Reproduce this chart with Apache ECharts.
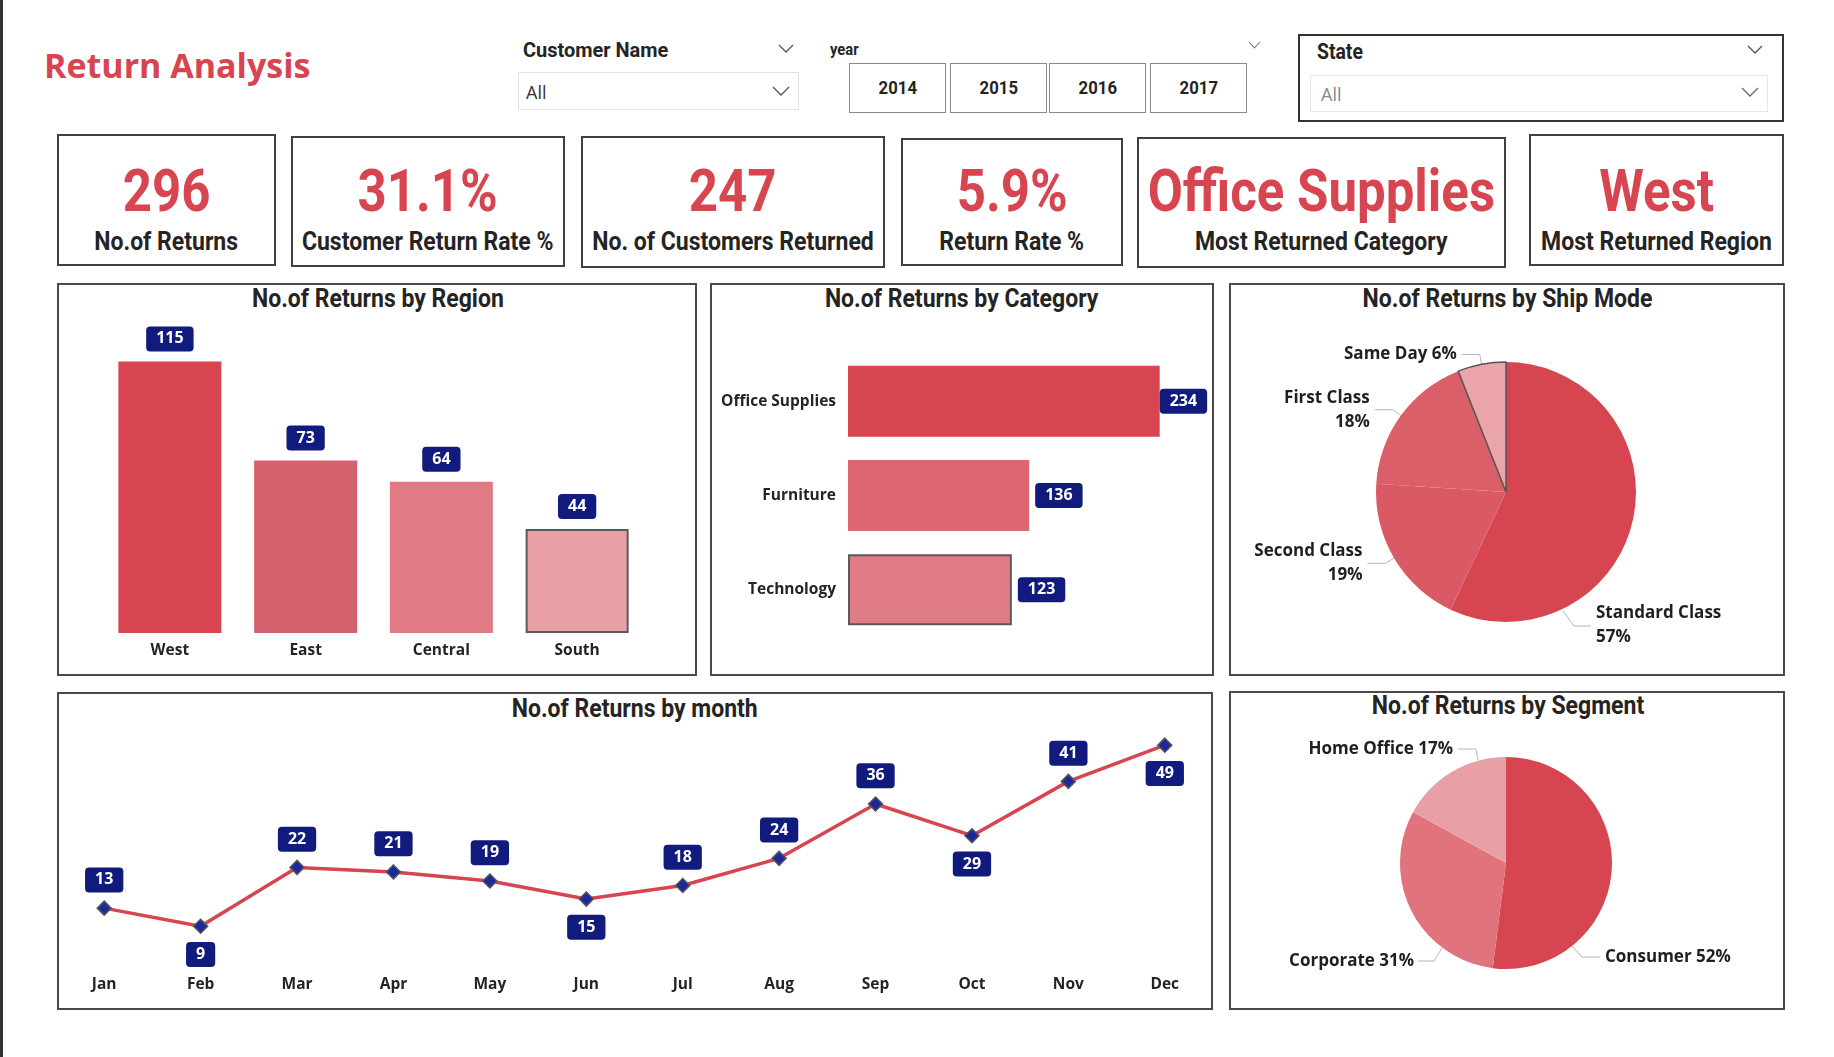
<!DOCTYPE html>
<html>
<head>
<meta charset="utf-8">
<title>Return Analysis</title>
<script src="https://cdn.jsdelivr.net/npm/echarts@6/dist/echarts.min.js"></script>
<style>
  html, body { margin: 0; padding: 0; background: #fff; }
  body { width: 1834px; height: 1057px; position: relative; overflow: hidden; }
  .abs { position: absolute; box-sizing: border-box; }
  .din { font-family: Roboto, "DejaVu Sans", sans-serif; font-weight: bold; color: #252423; white-space: nowrap; }
  .din span { display: inline-block; transform: scaleX(0.92); transform-origin: left center; }
  .ctr { text-align: center; }
  .ctr span { transform-origin: center center; }
  .card { border: 2px solid #404040; background: #fff; }
  .panel { border: 2px solid #4a4a4a; }
  .yearBtn { border: 1px solid #8a8a8a; font-size: 19px; line-height: 48px; }
  .chev { position: absolute; }
  #charts { position: absolute; left: 0; top: 0; width: 1834px; height: 1057px; }
</style>
</head>
<body>
<div class="abs" style="left:0;top:0;width:3px;height:1057px;background:#333;"></div>

<div class="abs" style="left:44px;top:42px;font-family:'Open Sans',sans-serif;font-weight:700;font-size:34px;color:#D64550;">Return Analysis</div>

<!-- slicers -->
<div class="abs din" style="left:523px;top:38px;font-size:21px;"><span style="transform:scaleX(0.95)">Customer Name</span></div>
<svg class="chev" style="left:778px;top:44px" width="16" height="10"><polyline points="1,1 8,8 15,1" fill="none" stroke="#555" stroke-width="1.3"/></svg>
<div class="abs" style="left:518px;top:72px;width:281px;height:38px;border:1px solid #e3e3e3;"></div>
<div class="abs" style="left:526px;top:80px;font-family:'Open Sans',sans-serif;font-size:18px;color:#333;">All</div>
<svg class="chev" style="left:772px;top:86px" width="18" height="11"><polyline points="1,1 9,9 17,1" fill="none" stroke="#555" stroke-width="1.3"/></svg>

<div class="abs din" style="left:830px;top:40px;font-size:16px;"><span>year</span></div>
<svg class="chev" style="left:1248px;top:41px" width="13" height="9"><polyline points="1,1 6.5,7 12,1" fill="none" stroke="#777" stroke-width="1.1"/></svg>
<div id="years"></div>

<div class="abs" style="left:1298px;top:34px;width:486px;height:88px;border:2px solid #333;"></div>
<div class="abs din" style="left:1317px;top:39px;font-size:22px;"><span style="transform:scaleX(0.88)">State</span></div>
<svg class="chev" style="left:1747px;top:45px" width="16" height="10"><polyline points="1,1 8,8 15,1" fill="none" stroke="#555" stroke-width="1.3"/></svg>
<div class="abs" style="left:1310px;top:75px;width:458px;height:37px;border:1px solid #e6e6e6;"></div>
<div class="abs" style="left:1321px;top:82px;font-family:'Open Sans',sans-serif;font-size:18px;color:#888;">All</div>
<svg class="chev" style="left:1741px;top:87px" width="18" height="11"><polyline points="1,1 9,9 17,1" fill="none" stroke="#666" stroke-width="1.3"/></svg>

<div id="cards"></div>

<!-- visual frames -->
<div class="abs panel" style="left:57px;top:283px;width:640px;height:393px;"></div>
<div class="abs panel" style="left:710px;top:283px;width:504px;height:393px;"></div>
<div class="abs panel" style="left:1229px;top:283px;width:556px;height:393px;"></div>
<div class="abs panel" style="left:57px;top:692px;width:1156px;height:318px;"></div>
<div class="abs panel" style="left:1229px;top:691px;width:556px;height:319px;"></div>
<div id="titles"></div>

<div id="charts"></div>

<script>
// slicer values
var years = ['2014', '2015', '2016', '2017'];

// KPI cards
var kpiValues = ['296', '31.1%', '247', '5.9%', 'Office Supplies', 'West'];
var kpiLabels = ['No.of Returns', 'Customer Return Rate %', 'No. of Customers Returned',
                 'Return Rate %', 'Most Returned Category', 'Most Returned Region'];

// visual titles
var visualTitles = ['No.of Returns by Region', 'No.of Returns by Category', 'No.of Returns by Ship Mode',
                    'No.of Returns by month', 'No.of Returns by Segment'];

// charts
var regions = ['West', 'East', 'Central', 'South'];
var regionReturns = [115, 73, 64, 44];

var categories = ['Office Supplies', 'Furniture', 'Technology'];
var categoryReturns = [234, 136, 123];

var shipModes = ['Standard Class', 'Second Class', 'First Class', 'Same Day'];
var shipModeShare = [57, 19, 18, 6];

var months = ['Jan', 'Feb', 'Mar', 'Apr', 'May', 'Jun', 'Jul', 'Aug', 'Sep', 'Oct', 'Nov', 'Dec'];
var monthReturns = [13, 9, 22, 21, 19, 15, 18, 24, 36, 29, 41, 49];

var segments = ['Consumer', 'Corporate', 'Home Office'];
var segmentShare = [52, 31, 17];

//----- slicer buttons
var yearLeft = [849, 950, 1049, 1150];
var yHtml = '';
years.forEach(function (y, i) {
    yHtml += '<div class="abs din ctr yearBtn" style="left:' + yearLeft[i] + 'px;top:63px;width:97px;height:50px;"><span style="transform:scaleX(0.88)">' + y + '</span></div>';
});
document.getElementById('years').innerHTML = yHtml;

//----- KPI cards: left, top, width, height
var cardBox = [[57, 134, 219, 132], [291, 136, 274, 131], [581, 136, 304, 132],
               [901, 138, 222, 128], [1137, 137, 369, 131], [1529, 134, 255, 132]];
var cHtml = '';
kpiValues.forEach(function (v, i) {
    var b = cardBox[i];
    cHtml += '<div class="abs card" style="left:' + b[0] + 'px;top:' + b[1] + 'px;width:' + b[2] + 'px;height:' + b[3] + 'px;">'
        + '<div class="abs din ctr" style="left:-40px;right:-40px;top:' + (191 - b[1] - 2 - 32) + 'px;font-size:60px;line-height:64px;color:#D64550;"><span style="transform:scaleX(0.85)">' + v + '</span></div>'
        + '<div class="abs din ctr" style="left:-40px;right:-40px;top:' + (242 - b[1] - 2 - 15) + 'px;font-size:25px;line-height:30px;"><span>' + kpiLabels[i] + '</span></div></div>';
});
document.getElementById('cards').innerHTML = cHtml;

//----- visual titles: centre x, centre y
var titlePos = [[378, 299], [962, 299], [1508, 299], [635, 709], [1508, 706]];
var tHtml = '';
visualTitles.forEach(function (t, i) {
    tHtml += '<div class="abs din ctr" style="left:' + (titlePos[i][0] - 200) + 'px;width:400px;top:' + (titlePos[i][1] - 15) + 'px;font-size:25px;line-height:30px;"><span>' + t + '</span></div>';
});
document.getElementById('titles').innerHTML = tHtml;

//----- charts
var myChart = echarts.init(document.getElementById('charts'));

var RED = '#D64550';
var NAVY = '#111B7D';
var labelFont = '"Open Sans", "Noto Sans", sans-serif';

var axisText = {color: '#252423', fontFamily: labelFont, fontWeight: 'bold', fontSize: 15.5};
var boxLabel = {
    show: true,
    color: '#fff',
    fontFamily: labelFont,
    fontWeight: 'bold',
    fontSize: 16,
    lineHeight: 17,
    backgroundColor: NAVY,
    borderRadius: 4,
    padding: [4, 10]
};

var regionColors = ['#D64550', '#D4626C', '#E07B85', '#E9A0A6'];
var categoryColors = ['#D64550', '#DE6670', '#E07C85'];
var shipColors = ['#D64550', '#D95A65', '#DB5F69', '#EBA5AA'];
var segmentColors = ['#D64550', '#E0737C', '#E8A0A6'];

var regionData = regionReturns.map(function (v, i) {
    var it = {value: v, itemStyle: {color: regionColors[i]}};
    if (i === 3) { it.itemStyle.borderColor = '#5a5a5a'; it.itemStyle.borderWidth = 2; }
    return it;
});
var categoryData = categoryReturns.map(function (v, i) {
    var it = {value: v, itemStyle: {color: categoryColors[i]}};
    if (i === 2) { it.itemStyle.borderColor = '#5a5a5a'; it.itemStyle.borderWidth = 2; }
    if (i === 0) { it.label = {distance: 0}; }
    return it;
});
var labelBelow = [1, 5, 9, 11];   // months whose label sits under the point
var monthData = monthReturns.map(function (v, i) {
    return {value: v, label: {position: labelBelow.indexOf(i) >= 0 ? 'bottom' : 'top'}};
});
var shipData = shipModes.map(function (n, i) {
    var it = {name: n, value: shipModeShare[i], itemStyle: {color: shipColors[i]}};
    if (i === 3) { it.itemStyle.borderColor = '#555'; it.itemStyle.borderWidth = 1.5; }
    return it;
});
var segmentData = segments.map(function (n, i) {
    return {name: n, value: segmentShare[i], itemStyle: {color: segmentColors[i]}};
});

var pieLabel = {
    color: '#1f1f1f', fontFamily: labelFont, fontWeight: 'bold', fontSize: 17, lineHeight: 24
};
var leader = {length: 10, length2: 18, lineStyle: {color: '#b5b5b5', width: 1}};

option = {
    animation: false,
    grid: [
        {left: 102, top: 326, width: 543, height: 307},
        {left: 848, top: 354, width: 333, height: 283},
        {left: 56, top: 718, width: 1157, height: 249}
    ],
    xAxis: [
        {type: 'category', gridIndex: 0, data: regions, axisLine: {show: false}, axisTick: {show: false},
         axisLabel: Object.assign({margin: 10}, axisText)},
        {type: 'value', gridIndex: 1, min: 0, max: 250, show: false},
        {type: 'category', gridIndex: 2, data: months, axisLine: {show: false}, axisTick: {show: false},
         axisLabel: Object.assign({margin: 10}, axisText)}
    ],
    yAxis: [
        {type: 'value', gridIndex: 0, min: 0, max: 130, show: false},
        {type: 'category', gridIndex: 1, data: categories, inverse: true, axisLine: {show: false}, axisTick: {show: false},
         axisLabel: Object.assign({margin: 12}, axisText)},
        {type: 'value', gridIndex: 2, min: 0, max: 55, show: false}
    ],
    series: [
        {
            name: 'Region', type: 'bar', xAxisIndex: 0, yAxisIndex: 0,
            barWidth: 103, data: regionData,
            label: Object.assign({position: 'top', distance: 10}, boxLabel)
        },
        {
            name: 'Category', type: 'bar', xAxisIndex: 1, yAxisIndex: 1,
            barWidth: 71, data: categoryData,
            label: Object.assign({position: 'right', distance: 6}, boxLabel)
        },
        {
            name: 'Month', type: 'line', xAxisIndex: 2, yAxisIndex: 2,
            data: monthData,
            lineStyle: {color: RED, width: 3.5},
            symbol: 'diamond', symbolSize: 14,
            itemStyle: {color: '#1B2A9B', borderColor: '#555', borderWidth: 1.5},
            label: Object.assign({distance: 8}, boxLabel)
        },
        {
            name: 'Ship Mode', type: 'pie', center: [1506, 492], radius: 130,
            startAngle: 90, clockwise: true, data: shipData,
            label: Object.assign({
                formatter: function (p) {
                    var pct = p.percent.toFixed(0) + '%';
                    return p.name === 'Same Day' ? p.name + ' ' + pct : p.name + '\n' + pct;
                }
            }, pieLabel),
            labelLine: leader,
            labelLayout: function (p) {
                if (p.dataIndex === 0) {
                    return {x: 1596, y: 625, align: 'left', verticalAlign: 'middle',
                            labelLinePoints: [[1563, 611], [1574, 626], [1591, 626]]};
                }
            }
        },
        {
            name: 'Segment', type: 'pie', center: [1506, 863], radius: 106,
            startAngle: 90, clockwise: true, data: segmentData,
            label: Object.assign({formatter: '{b} {d}%'}, pieLabel),
            labelLine: leader,
            labelLayout: function (p) {
                if (p.dataIndex === 0) {
                    return {x: 1605, y: 957, align: 'left', verticalAlign: 'middle',
                            labelLinePoints: [[1572, 946], [1582, 957], [1600, 957]]};
                }
                if (p.dataIndex === 1) {
                    return {x: 1414, y: 961, align: 'right', verticalAlign: 'middle',
                            labelLinePoints: [[1442, 948], [1434, 961], [1418, 961]]};
                }
                if (p.dataIndex === 2) {
                    return {x: 1453, y: 749, align: 'right', verticalAlign: 'middle',
                            labelLinePoints: [[1478, 760], [1476, 749], [1458, 749]]};
                }
            }
        }
    ]
};
myChart.setOption(option);
</script>
</body>
</html>
